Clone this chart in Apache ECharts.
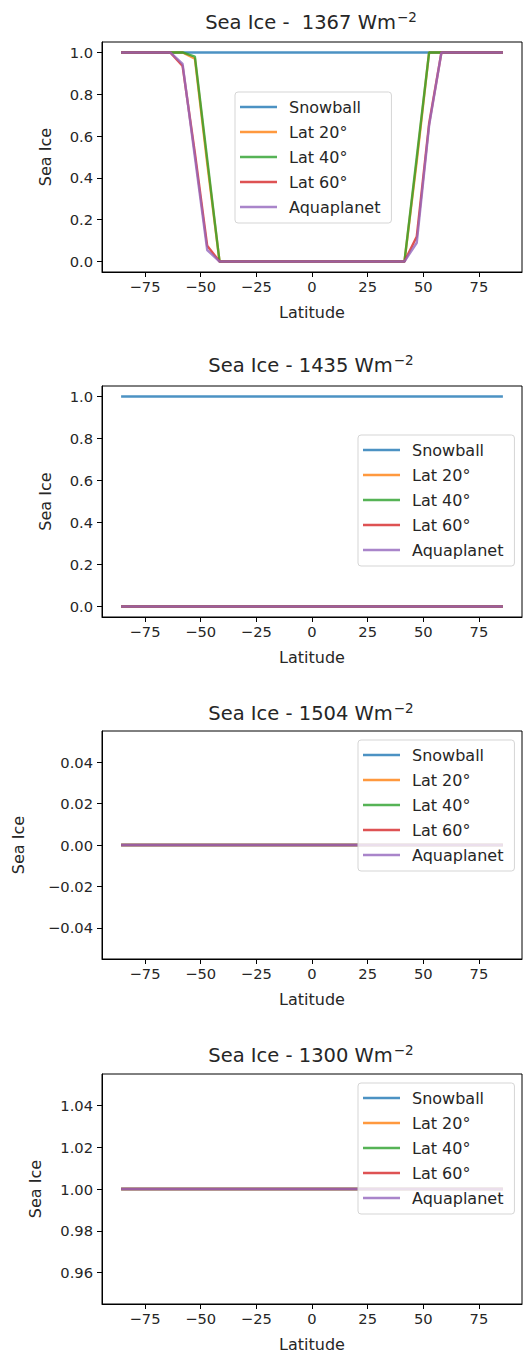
<!DOCTYPE html>
<html><head><meta charset="utf-8">
<script src="https://cdn.jsdelivr.net/npm/echarts@6/dist/echarts.min.js"></script>
<style>html,body{margin:0;padding:0;background:#fff}#c{width:524px;height:1359px}</style>
</head><body><div id="c"></div>
<script>
// ---------- DATA ----------
const latitudes = [-85.76, -80.27, -74.74, -69.21, -63.68, -58.14, -52.61, -47.07, -41.53, -36.00, -30.46, -24.92, -19.38, -13.84, -8.31, -2.77,
                   2.77, 8.31, 13.84, 19.38, 24.92, 30.46, 36.00, 41.53, 47.07, 52.61, 58.14, 63.68, 69.21, 74.74, 80.27, 85.76];
const seriesNames = ['Snowball', 'Lat 20°', 'Lat 40°', 'Lat 60°', 'Aquaplanet'];
const solarValues = ['1367', '1435', '1504', '1300'];
const xTicks = [-75, -50, -25, 0, 25, 50, 75];
const yTicks1367 = [0.0, 0.2, 0.4, 0.6, 0.8, 1.0];
const yTicks1435 = [0.0, 0.2, 0.4, 0.6, 0.8, 1.0];
const yTicks1504 = [-0.04, -0.02, 0.00, 0.02, 0.04];
const yTicks1300 = [0.96, 0.98, 1.00, 1.02, 1.04];

// S0 = 1367
const snowball1367   = [1,1,1,1,1,1,1,1,1,1,1,1,1,1,1,1, 1,1,1,1,1,1,1,1,1,1,1,1,1,1,1,1];
const lat20_1367     = [1,1,1,1,1,1,0.97,0.47,0,0,0,0,0,0,0,0, 0,0,0,0,0,0,0,0,0.48,1,1,1,1,1,1,1];
const lat40_1367     = [1,1,1,1,1,1,0.98,0.49,0,0,0,0,0,0,0,0, 0,0,0,0,0,0,0,0,0.50,1,1,1,1,1,1,1];
const lat60_1367     = [1,1,1,1,1,0.935,0.52,0.075,0,0,0,0,0,0,0,0, 0,0,0,0,0,0,0,0,0.12,0.66,1,1,1,1,1,1];
const aqua1367       = [1,1,1,1,1,0.945,0.50,0.055,0,0,0,0,0,0,0,0, 0,0,0,0,0,0,0,0,0.09,0.65,1,1,1,1,1,1];
// S0 = 1435
const snowball1435   = [1,1,1,1,1,1,1,1,1,1,1,1,1,1,1,1, 1,1,1,1,1,1,1,1,1,1,1,1,1,1,1,1];
const lat20_1435     = [0,0,0,0,0,0,0,0,0,0,0,0,0,0,0,0, 0,0,0,0,0,0,0,0,0,0,0,0,0,0,0,0];
const lat40_1435     = [0,0,0,0,0,0,0,0,0,0,0,0,0,0,0,0, 0,0,0,0,0,0,0,0,0,0,0,0,0,0,0,0];
const lat60_1435     = [0,0,0,0,0,0,0,0,0,0,0,0,0,0,0,0, 0,0,0,0,0,0,0,0,0,0,0,0,0,0,0,0];
const aqua1435       = [0,0,0,0,0,0,0,0,0,0,0,0,0,0,0,0, 0,0,0,0,0,0,0,0,0,0,0,0,0,0,0,0];
// S0 = 1504
const snowball1504   = [0,0,0,0,0,0,0,0,0,0,0,0,0,0,0,0, 0,0,0,0,0,0,0,0,0,0,0,0,0,0,0,0];
const lat20_1504     = [0,0,0,0,0,0,0,0,0,0,0,0,0,0,0,0, 0,0,0,0,0,0,0,0,0,0,0,0,0,0,0,0];
const lat40_1504     = [0,0,0,0,0,0,0,0,0,0,0,0,0,0,0,0, 0,0,0,0,0,0,0,0,0,0,0,0,0,0,0,0];
const lat60_1504     = [0,0,0,0,0,0,0,0,0,0,0,0,0,0,0,0, 0,0,0,0,0,0,0,0,0,0,0,0,0,0,0,0];
const aqua1504       = [0,0,0,0,0,0,0,0,0,0,0,0,0,0,0,0, 0,0,0,0,0,0,0,0,0,0,0,0,0,0,0,0];
// S0 = 1300
const snowball1300   = [1,1,1,1,1,1,1,1,1,1,1,1,1,1,1,1, 1,1,1,1,1,1,1,1,1,1,1,1,1,1,1,1];
const lat20_1300     = [1,1,1,1,1,1,1,1,1,1,1,1,1,1,1,1, 1,1,1,1,1,1,1,1,1,1,1,1,1,1,1,1];
const lat40_1300     = [1,1,1,1,1,1,1,1,1,1,1,1,1,1,1,1, 1,1,1,1,1,1,1,1,1,1,1,1,1,1,1,1];
const lat60_1300     = [1,1,1,1,1,1,1,1,1,1,1,1,1,1,1,1, 1,1,1,1,1,1,1,1,1,1,1,1,1,1,1,1];
const aqua1300       = [1,1,1,1,1,1,1,1,1,1,1,1,1,1,1,1, 1,1,1,1,1,1,1,1,1,1,1,1,1,1,1,1];

// ---------- STYLE / LAYOUT ----------
const panelData = [
  [snowball1367, lat20_1367, lat40_1367, lat60_1367, aqua1367],
  [snowball1435, lat20_1435, lat40_1435, lat60_1435, aqua1435],
  [snowball1504, lat20_1504, lat40_1504, lat60_1504, aqua1504],
  [snowball1300, lat20_1300, lat40_1300, lat60_1300, aqua1300]
];
const panelYTicks = [yTicks1367, yTicks1435, yTicks1504, yTicks1300];
const colors = ['#1f77b4', '#ff7f0e', '#2ca02c', '#d62728', '#9467bd'];
const FONT = 'DejaVu Sans';
const TXT = '#262626';
const grids = [
  {top: 42, height: 230}, {top: 386, height: 231}, {top: 731, height: 228}, {top: 1074, height: 230}
];
const yRanges = [[-0.05, 1.05], [-0.05, 1.05], [-0.055, 0.055], [0.945, 1.055]];
const yDecimals = [1, 1, 2, 2];
const yNameGaps = [49, 49, 76, 59];
const titleY = [22, 365, 713, 1055];
const legendPos = [{left: 235, top: 92}, {left: 358, top: 435}, {left: 358, top: 740}, {left: 358, top: 1083}];
const xLim = 94.34;
const fmt = (v, d) => { const s = Math.abs(v).toFixed(d); return (v < 0 ? '\u2212' : '') + s; };

const option = {
  animation: false,
  backgroundColor: '#fff',
  grid: grids.map(g => ({left: 102, width: 420, top: g.top, height: g.height, show: true, borderColor: '#000', borderWidth: 1, backgroundColor: 'transparent'})),
  xAxis: grids.map((g, i) => ({
    type: 'value', gridIndex: i, min: -xLim, max: xLim,
    name: 'Latitude', nameLocation: 'middle', nameGap: 32,
    nameTextStyle: {fontFamily: FONT, fontSize: 16, color: TXT},
    axisLine: {show: true, onZero: false, lineStyle: {color: '#000', width: 1}},
    axisTick: {show: true, inside: false, length: 5, customValues: xTicks, lineStyle: {color: '#000'}},
    axisLabel: {show: true, margin: 7, fontFamily: FONT, fontSize: 14.7, color: TXT, customValues: xTicks,
                formatter: v => fmt(v, 0)},
    splitLine: {show: false}
  })),
  yAxis: grids.map((g, i) => ({
    type: 'value', gridIndex: i, min: yRanges[i][0], max: yRanges[i][1],
    name: 'Sea Ice', nameLocation: 'middle', nameGap: yNameGaps[i],
    nameTextStyle: {fontFamily: FONT, fontSize: 16, color: TXT},
    axisLine: {show: true, onZero: false, lineStyle: {color: '#000', width: 1}},
    axisTick: {show: true, inside: false, length: 5, customValues: panelYTicks[i], lineStyle: {color: '#000'}},
    axisLabel: {show: true, margin: 9, fontFamily: FONT, fontSize: 14.7, color: TXT, customValues: panelYTicks[i],
                formatter: v => fmt(v, yDecimals[i])},
    splitLine: {show: false}
  })),
  legend: legendPos.map(p => ({
    left: p.left, top: p.top, orient: 'vertical', data: seriesNames,
    icon: 'rect', itemWidth: 37, itemHeight: 2.5, itemGap: 7,
    padding: [6, 11, 7, 5],
    backgroundColor: 'rgba(255,255,255,0.8)', borderColor: '#d5d5d5', borderWidth: 1, borderRadius: 3,
    textStyle: {fontFamily: FONT, fontSize: 16, color: TXT, lineHeight: 18, padding: [0, 0, 0, 7]},
    itemStyle: {opacity: 0.8},
    selectedMode: false, z: 10
  })),
  graphic: titleY.map((y, i) => ({
    type: 'text', x: 311, y: y,
    style: {
      text: '{t|Sea Ice - ' + (i === 0 ? ' ' : '') + solarValues[i] + ' Wm}{s|\u22122}',
      align: 'center', verticalAlign: 'middle',
      rich: {
        t: {fontFamily: FONT, fontSize: 19.5, fill: TXT, color: TXT},
        s: {fontFamily: FONT, fontSize: 13.5, fill: TXT, color: TXT, verticalAlign: 'bottom', padding: [0, 0, 11, 1]}
      }
    }
  })),
  series: []
};

panelData.forEach((arrs, i) => {
  arrs.forEach((vals, k) => {
    option.series.push({
      type: 'line', name: seriesNames[k], xAxisIndex: i, yAxisIndex: i,
      data: latitudes.map((x, j) => [x, vals[j]]),
      symbol: 'none', showSymbol: false,
      lineStyle: {width: 2.4, color: colors[k], opacity: 0.8},
      itemStyle: {color: colors[k]},
      emphasis: {disabled: true}, z: 2 + k
    });
  });
});

const chart = echarts.init(document.getElementById('c'), null, {renderer: 'svg'});
chart.setOption(option);
</script>
</body></html>
